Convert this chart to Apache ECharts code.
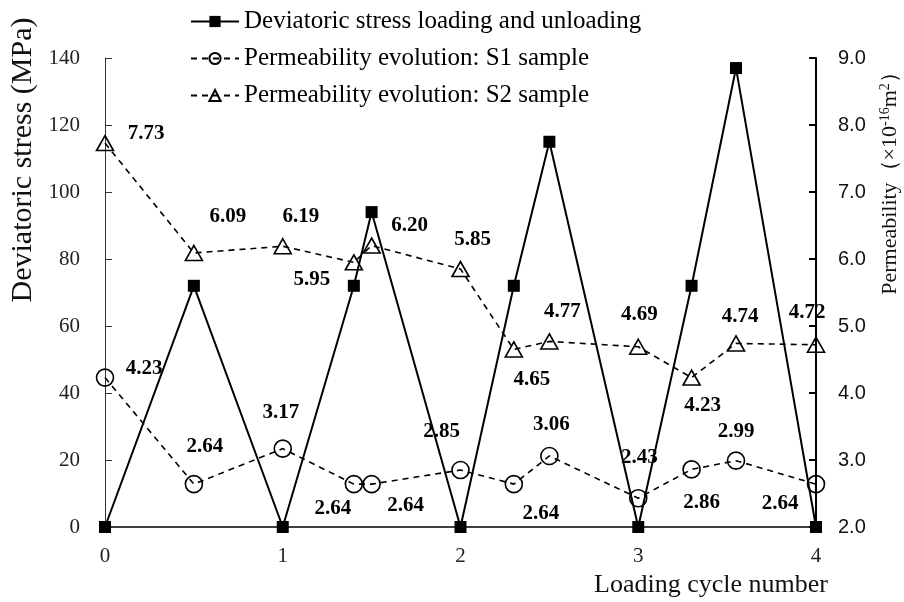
<!DOCTYPE html>
<html>
<head>
<meta charset="utf-8">
<script src="https://cdn.jsdelivr.net/npm/echarts@6/dist/echarts.min.js"></script>
<style>
  html, body { margin: 0; padding: 0; background: #fff; }
  #chart { width: 904px; height: 602px; }
</style>
</head>
<body>
<div id="chart"></div>
<script>
// Loading-cycle positions (x) shared by all three series
var cycles = [0, 0.5, 1, 1.4, 1.5, 2, 2.3, 2.5, 3, 3.3, 3.55, 4];

// Deviatoric stress (MPa), left axis
var stress = [0, 72, 0, 72, 94, 0, 72, 115, 0, 72, 137, 0];

// Permeability (×10^-16 m²), right axis
var permS1 = [4.23, 2.64, 3.17, 2.64, 2.64, 2.85, 2.64, 3.06, 2.43, 2.86, 2.99, 2.64];
var permS2 = [7.73, 6.09, 6.19, 5.95, 6.20, 5.85, 4.65, 4.77, 4.69, 4.23, 4.74, 4.72];

// Axis ticks
var xTicks = [0, 1, 2, 3, 4];
var stressTicks = [0, 20, 40, 60, 80, 100, 120, 140];
var permTicks = [2.0, 3.0, 4.0, 5.0, 6.0, 7.0, 8.0, 9.0];

// Value label placement (pixel offsets from each marker)
var s1LabelOffsets = [[39, -9], [11, -38], [-2, -36], [-21, 24], [34, 21], [-19, -38],
                      [27, 29], [2, -31], [1, -41], [10, 33], [0, -29], [-36, 19]];
var s2LabelOffsets = [[41, -10], [34, -36], [18, -30], [-42, 17], [38, -20], [12, -29],
                      [18, 30], [13, -30], [1, -32], [11, 28], [4, -27], [-9, -32]];

var SERIF = '"Liberation Serif", "Times New Roman", serif';
var SANS = '"Liberation Sans", Arial, sans-serif';

function pairs(xs, ys, offsets) {
  return xs.map(function (x, i) {
    var item = { value: [x, ys[i]] };
    if (offsets) {
      item.label = { show: true, position: 'inside', offset: offsets[i],
        formatter: ys[i].toFixed(2) };
    }
    return item;
  });
}

var labelStyle = {
  color: '#000', fontFamily: SERIF, fontWeight: 'bold', fontSize: 21
};

var chart = echarts.init(document.getElementById('chart'), null, { renderer: 'canvas' });

chart.setOption({
  animation: false,
  backgroundColor: '#fff',
  grid: { left: 105, right: 88, top: 58, bottom: 75, containLabel: false },
  legend: {
    orient: 'vertical',
    left: 185,
    top: 4,
    itemWidth: 48,
    itemHeight: 14,
    itemGap: 12,
    textStyle: { color: '#000', fontFamily: SERIF, fontSize: 25 },
    data: [
      'Deviatoric stress loading and unloading',
      'Permeability evolution: S1 sample',
      'Permeability evolution: S2 sample'
    ]
  },
  xAxis: {
    type: 'value',
    min: xTicks[0],
    max: xTicks[xTicks.length - 1],
    interval: 1,
    axisLine: { show: true, onZero: false, lineStyle: { color: '#000', width: 1.5 } },
    axisTick: { show: false },
    splitLine: { show: false },
    axisLabel: { color: '#222', fontFamily: SERIF, fontSize: 21, margin: 19 }
  },
  yAxis: [
    {
      type: 'value',
      min: stressTicks[0],
      max: stressTicks[stressTicks.length - 1],
      interval: 20,
      axisLine: { show: true, lineStyle: { color: '#333', width: 1 } },
      axisTick: { show: true, inside: true, length: 7, lineStyle: { color: '#333' } },
      splitLine: { show: false },
      axisLabel: { color: '#222', fontFamily: SERIF, fontSize: 21, margin: 25 }
    },
    {
      type: 'value',
      position: 'right',
      min: permTicks[0],
      max: permTicks[permTicks.length - 1],
      interval: 1,
      axisLine: { show: true, lineStyle: { color: '#000', width: 2 } },
      axisTick: { show: true, inside: true, length: 7, lineStyle: { color: '#000', width: 2 } },
      splitLine: { show: false },
      axisLabel: {
        color: '#111', fontFamily: SANS, fontSize: 20, margin: 22,
        formatter: function (v) { return v.toFixed(1); }
      }
    }
  ],
  graphic: [
    {
      type: 'text',
      x: 23, y: 160, rotation: Math.PI / 2,
      style: {
        text: 'Deviatoric stress (MPa)', fill: '#111', font: '30px ' + SERIF,
        textAlign: 'center', textVerticalAlign: 'middle'
      }
    },
    {
      type: 'text',
      x: 890, y: 178, rotation: Math.PI / 2,
      style: {
        rich: {
          n: { fontFamily: SERIF, fontSize: 22, fill: '#111' },
          s: { fontFamily: SERIF, fontSize: 14, fill: '#111', padding: [0, 0, 10, 0] }
        },
        text: '{n|Permeability（×10}{s|-16}{n|m}{s|2}{n|）}',
        textAlign: 'center', textVerticalAlign: 'middle'
      }
    },
    {
      type: 'text',
      x: 828, y: 585,
      style: {
        text: 'Loading cycle number', fill: '#111', font: '26px ' + SERIF,
        textAlign: 'right', textVerticalAlign: 'middle'
      }
    }
  ],
  series: [
    {
      name: 'Deviatoric stress loading and unloading',
      type: 'line',
      yAxisIndex: 0,
      z: 3,
      data: pairs(cycles, stress),
      symbol: 'rect',
      symbolSize: 12,
      color: '#000',
      lineStyle: { color: '#000', width: 2, type: 'solid' },
      itemStyle: { color: '#000' }
    },
    {
      name: 'Permeability evolution: S1 sample',
      type: 'line',
      yAxisIndex: 1,
      z: 2,
      data: pairs(cycles, permS1, s1LabelOffsets),
      symbol: 'circle',
      symbolSize: 17,
      color: '#000',
      lineStyle: { color: '#000', width: 1.6, type: [6, 5] },
      itemStyle: { color: 'rgba(255,255,255,0)', borderColor: '#000', borderWidth: 1.6 },
      label: labelStyle
    },
    {
      name: 'Permeability evolution: S2 sample',
      type: 'line',
      yAxisIndex: 1,
      z: 2,
      data: pairs(cycles, permS2, s2LabelOffsets),
      symbol: 'triangle',
      symbolSize: [17, 15],
      color: '#000',
      lineStyle: { color: '#000', width: 1.6, type: [6, 5] },
      itemStyle: { color: 'rgba(255,255,255,0)', borderColor: '#000', borderWidth: 1.6 },
      label: labelStyle
    }
  ]
});
</script>
</body>
</html>
